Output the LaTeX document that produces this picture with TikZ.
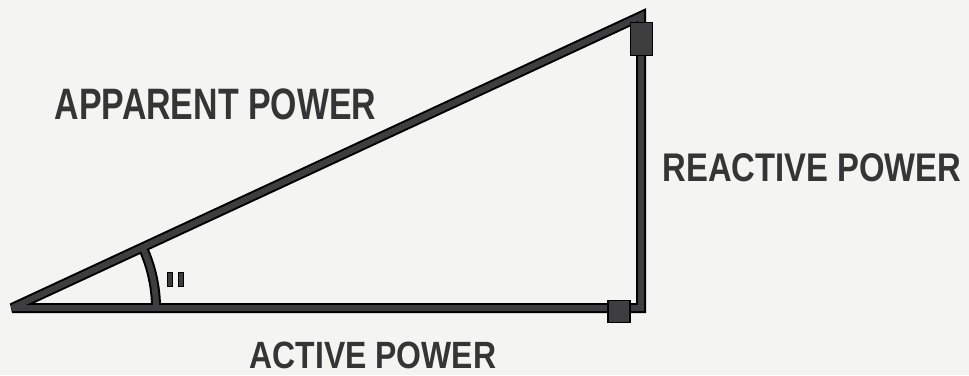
\documentclass[tikz,border=0pt]{standalone}
\usepackage{fontspec}
\setmainfont{Liberation Sans}
\usepackage{graphicx}
\definecolor{paper}{HTML}{F4F4F2}
\definecolor{ink}{HTML}{3E3E40}
\begin{document}
\begin{tikzpicture}[x=1pt,y=1pt,
  outer/.style={draw=black,line width=10pt,line join=miter,miter limit=2},
  inner/.style={draw=ink,line width=6pt,line join=miter,miter limit=2},
  blob/.style={draw=black,fill=ink,line width=1.5pt,inner sep=0pt,minimum width=#1},
  lab/.style={text=ink!85!black,inner sep=0pt,font=\bfseries}]
\fill[paper] (0,0) rectangle (969,375);
\useasboundingbox (0,0) rectangle (969,375);
% corners
\coordinate (A) at (12,67);
\coordinate (B) at (641,359);
\coordinate (C) at (641,67);
% triangle outline pass
\draw[outer] (A) -- (B) -- (C) -- cycle;
\draw[outer] ([shift={(144,0)}]A) arc[start angle=0,end angle=24.8,radius=144];
% inner pass
\draw[inner] (A) -- (B) -- (C) -- cycle;
\draw[inner] ([shift={(144,0)}]A) arc[start angle=0,end angle=24.8,radius=144];
% arrowhead blobs
\node[blob=22pt,minimum height=33pt] (tipB) at (641.5,336) {};
\node[blob=22pt,minimum height=22pt] (tipC) at (619,63.5) {};
% angle mark
\node[draw=black,fill=ink,line width=1pt,minimum width=5pt,minimum height=14pt,inner sep=0pt] (m1) at (170,95.5) {};
\node[draw=black,fill=ink,line width=1pt,minimum width=5pt,minimum height=14pt,inner sep=0pt] (m2) at (181,95.5) {};
% labels
\node[lab] (ap) at (215.5,271) {\scalebox{0.77}[1]{\fontsize{44}{44}\selectfont APPARENT POWER}};
\node[lab] (rp) at (812,207.5) {\scalebox{0.82}[1]{\fontsize{40}{40}\selectfont REACTIVE POWER}};
\node[lab] (acp) at (373,20) {\scalebox{0.84}[1]{\fontsize{38}{38}\selectfont ACTIVE POWER}};
\end{tikzpicture}
\end{document}
